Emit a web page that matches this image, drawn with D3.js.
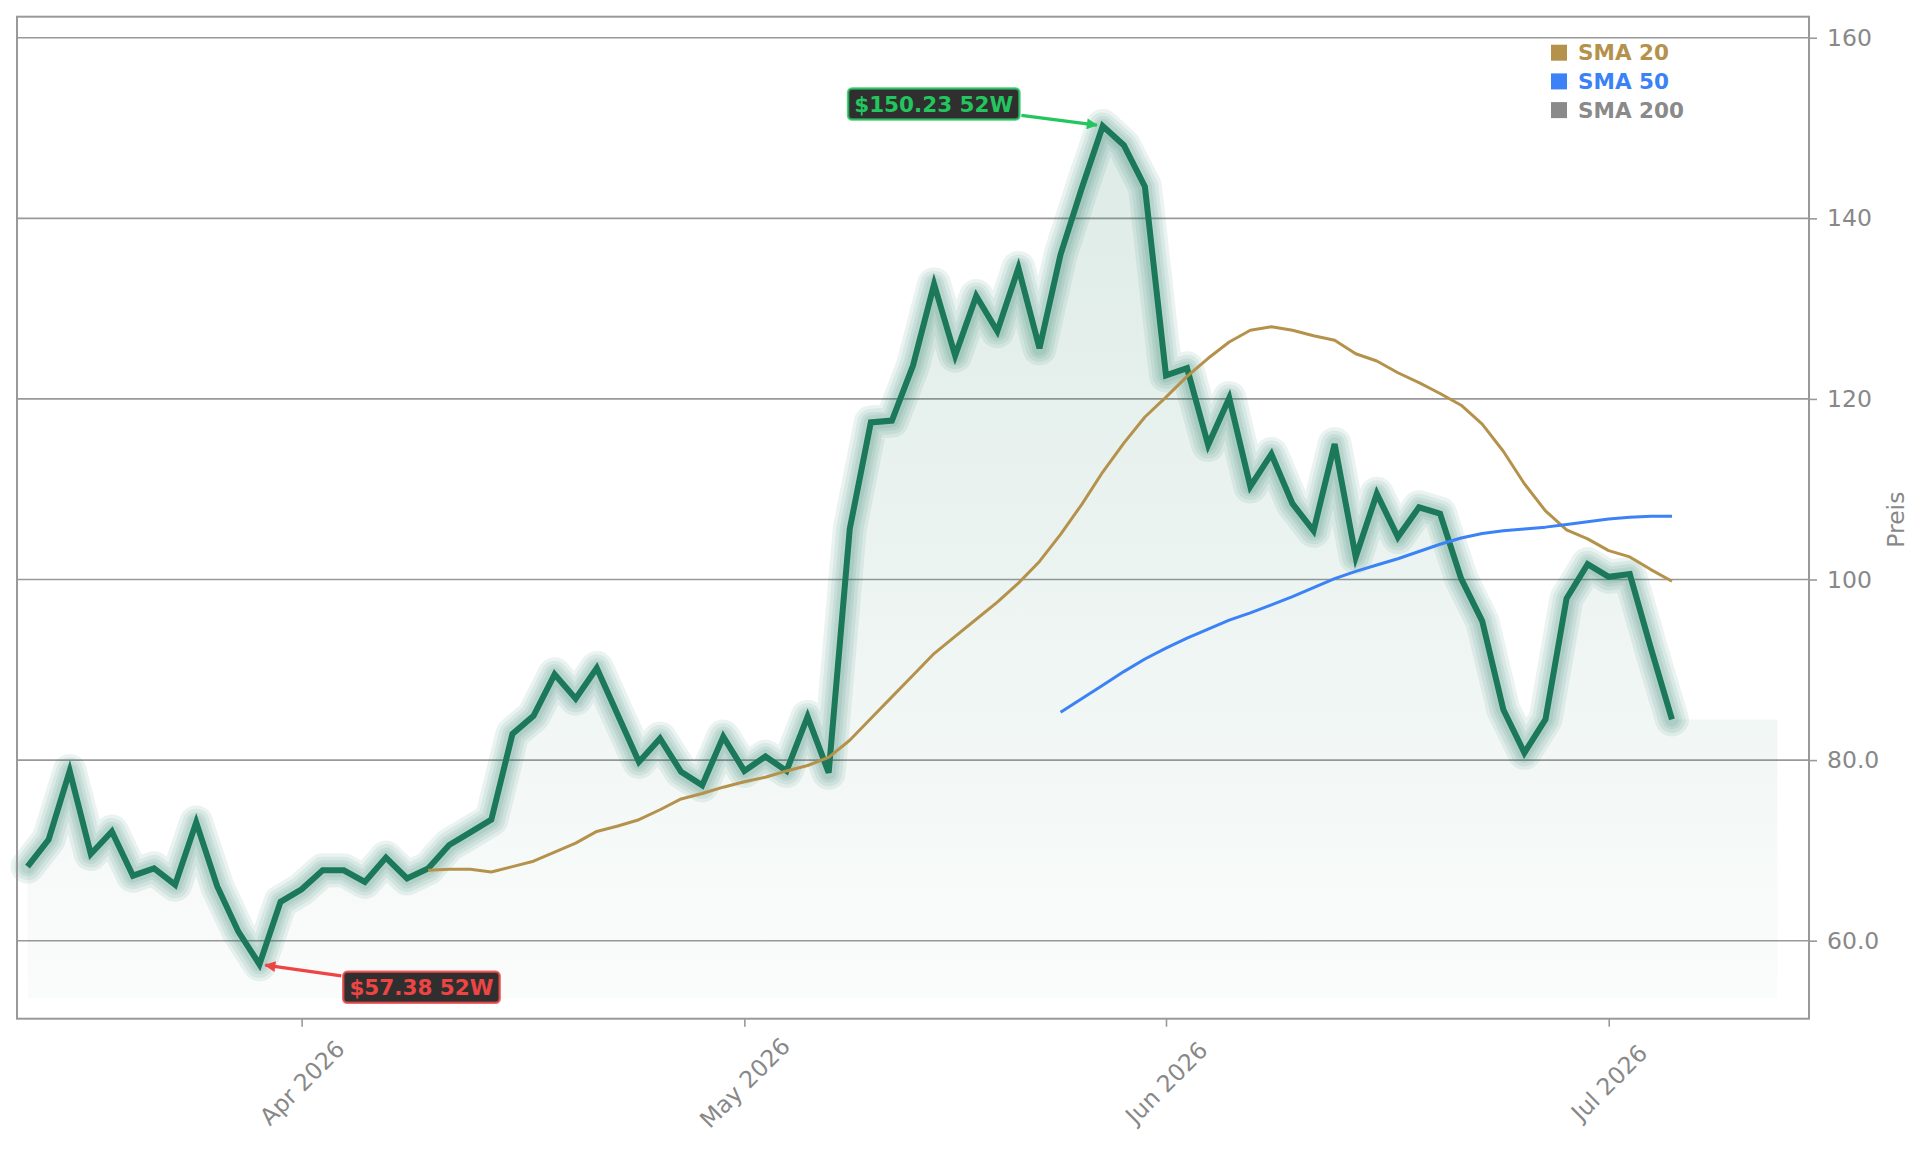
<!DOCTYPE html>
<html>
<head>
<meta charset="utf-8">
<script src="https://cdn.jsdelivr.net/npm/d3@7"></script>
<style>
  body { margin: 0; background: #fff; }
  svg { display: block; font-family: "DejaVu Sans", sans-serif; }
</style>
</head>
<body>
<script>
// closing prices, one per trading day (index 0 = first day shown)
const priceValues = [
  68.2, 71.2, 78.8, 69.6, 72.1, 67.2, 68.0, 66.2, 73.1, 66.0,
  61.0, 57.38, 64.3, 65.7, 67.8, 67.8, 66.5, 69.2, 66.9, 68.0,
  70.6, 72.0, 73.4, 82.9, 84.9, 89.5, 86.8, 90.2, 85.0, 79.8,
  82.4, 78.7, 77.2, 82.6, 78.8, 80.4, 78.8, 84.8, 78.6, 105.6,
  117.4, 117.6, 123.7, 132.7, 124.8, 131.4, 127.5, 134.5, 125.6, 136.0,
  143.3, 150.23, 148.1, 143.5, 122.6, 123.4, 114.9, 120.1, 110.3, 113.9,
  108.4, 105.4, 115.0, 102.5, 109.5, 104.7, 108.0, 107.3, 100.1, 95.4,
  85.6, 80.8, 84.5, 97.9, 101.7, 100.3, 100.6, 92.4, 84.5
];

// SMA 20 starts at trading day 19
const sma20Start = 19;
const sma20Values = [
  67.8, 67.9, 67.9, 67.6, 68.2, 68.8, 69.8, 70.8, 72.1, 72.7,
  73.4, 74.5, 75.7, 76.3, 77.0, 77.6, 78.1, 78.8, 79.4, 80.3,
  82.2, 84.6, 87.0, 89.4, 91.8, 93.7, 95.6, 97.5, 99.6, 102.0,
  105.0, 108.3, 111.9, 115.1, 118.0, 120.2, 122.5, 124.5, 126.3, 127.6,
  128.0, 127.6, 127.0, 126.5, 125.0, 124.2, 122.9, 121.8, 120.6, 119.3,
  117.2, 114.2, 110.6, 107.6, 105.5, 104.5, 103.2, 102.5, 101.1, 99.8
];

// SMA 50 starts at trading day 49
const sma50Start = 49;
const sma50Values = [
  85.3, 86.8, 88.3, 89.8, 91.2, 92.4, 93.5, 94.5, 95.5, 96.3,
  97.2, 98.1, 99.1, 100.1, 100.9, 101.6, 102.3, 103.1, 103.9, 104.6,
  105.1, 105.4, 105.6, 105.8, 106.1, 106.4, 106.7, 106.9, 107.0, 107.0
];

// first trading day of each month
const monthTickIndex = [13, 34, 54, 75];
const monthTickLabels = ["Apr 2026", "May 2026", "Jun 2026", "Jul 2026"];

const yTickValues = [60, 80, 100, 120, 140, 160];
const yTickLabels = ["60.0", "80.0", "100", "120", "140", "160"];

const legendLabels = ["SMA 20", "SMA 50", "SMA 200"];
const legendColors = ["#b5924c", "#3b82f6", "#8a8a8a"];

const highIndex = 51, lowIndex = 11;
const fillEndIndex = 83;

// ---- layout
const W = 1929, H = 1153;
const pLeft = 17, pRight = 1809, pTop = 16.7, pBottom = 1018.7;
const green = "#1b7858";

const svg = d3.select("body").append("svg").attr("width", W).attr("height", H);

const x = d3.scaleLinear().domain([-0.5, 84.5]).range([pLeft, pRight]);
const y = d3.scaleLinear().domain([51.36, 162.33]).range([pBottom, pTop]);

const price = priceValues.map((v, i) => ({i: i, v: v}));
const sma20 = sma20Values.map((v, k) => ({i: sma20Start + k, v: v}));
const sma50 = sma50Values.map((v, k) => ({i: sma50Start + k, v: v}));

// grid
svg.append("g").selectAll("line").data(yTickValues).join("line")
  .attr("x1", pLeft).attr("x2", pRight)
  .attr("y1", d => y(d)).attr("y2", d => y(d))
  .attr("stroke", "#999").attr("stroke-width", 1.6);

// gradient fill under price
const defs = svg.append("defs");
const grad = defs.append("linearGradient").attr("id", "fillGrad")
  .attr("gradientUnits", "userSpaceOnUse")
  .attr("x1", 0).attr("x2", 0).attr("y1", y(150.23)).attr("y2", y(53.6));
grad.append("stop").attr("offset", 0).attr("stop-color", green).attr("stop-opacity", 0.15);
grad.append("stop").attr("offset", 1).attr("stop-color", green).attr("stop-opacity", 0.02);

const fillData = price.concat([{i: fillEndIndex, v: priceValues[priceValues.length - 1]}]);
svg.append("path").datum(fillData)
  .attr("fill", "url(#fillGrad)")
  .attr("d", d3.area().x(d => x(d.i)).y0(y(53.6)).y1(d => y(d.v)));

// price line with glow
const line = d3.line().x(d => x(d.i)).y(d => y(d.v));
[34, 27, 20, 14].forEach(w => {
  svg.append("path").datum(price)
    .attr("fill", "none").attr("stroke", green).attr("stroke-opacity", 0.085)
    .attr("stroke-width", w).attr("stroke-linejoin", "round").attr("stroke-linecap", "round")
    .attr("d", line);
});
svg.append("path").datum(price)
  .attr("fill", "none").attr("stroke", green).attr("stroke-width", 6)
  .attr("stroke-linejoin", "miter")
  .attr("d", line);

// moving averages
svg.append("path").datum(sma20)
  .attr("fill", "none").attr("stroke", legendColors[0]).attr("stroke-width", 3)
  .attr("stroke-linejoin", "round").attr("d", line);
svg.append("path").datum(sma50)
  .attr("fill", "none").attr("stroke", legendColors[1]).attr("stroke-width", 3)
  .attr("stroke-linejoin", "round").attr("d", line);

// frame
svg.append("rect").attr("x", pLeft).attr("y", pTop)
  .attr("width", pRight - pLeft).attr("height", pBottom - pTop)
  .attr("fill", "none").attr("stroke", "#999").attr("stroke-width", 2);

// y axis on right
const yAxis = svg.append("g").attr("transform", `translate(${pRight},0)`)
  .call(d3.axisRight(y).tickValues(yTickValues).tickSize(8).tickPadding(10)
    .tickFormat((d, i) => yTickLabels[i]));
yAxis.select(".domain").remove();
yAxis.selectAll("line").attr("stroke", "#999").attr("stroke-width", 1.6);
yAxis.selectAll("text").attr("fill", "#888").attr("font-size", 23.5)
  .attr("font-family", "DejaVu Sans");

svg.append("text")
  .attr("transform", `translate(1896,${(pTop + pBottom) / 2 + 2}) rotate(-90)`)
  .attr("text-anchor", "middle").attr("dominant-baseline", "central")
  .attr("fill", "#888").attr("font-size", 23.5).text("Preis");

// x axis
const xAxis = svg.append("g").attr("transform", `translate(0,${pBottom})`)
  .call(d3.axisBottom(x).tickValues(monthTickIndex).tickSize(8)
    .tickFormat((d, i) => monthTickLabels[i]));
xAxis.select(".domain").remove();
xAxis.selectAll("line").attr("stroke", "#999").attr("stroke-width", 1.6);
xAxis.selectAll("text")
  .attr("y", 0).attr("dy", "0.35em")
  .attr("text-anchor", "middle")
  .attr("transform", "translate(0,64) rotate(-45)")
  .attr("fill", "#888").attr("font-size", 23.5).attr("font-family", "DejaVu Sans");

// legend
const legend = svg.append("g").attr("transform", "translate(1551,52.7)");
legendLabels.forEach((lab, k) => {
  const row = legend.append("g").attr("transform", `translate(0,${k * 28.7})`);
  row.append("rect").attr("x", 0).attr("y", -8).attr("width", 16).attr("height", 16)
    .attr("fill", legendColors[k]);
  row.append("text").attr("x", 27).attr("y", 0).attr("dy", "0.36em")
    .attr("font-size", 21.5).attr("font-weight", "bold").attr("fill", legendColors[k])
    .text(lab);
});

// 52W annotations
defs.selectAll("marker").data([["arrG", "#22c55e"], ["arrR", "#ef4444"]]).join("marker")
  .attr("id", d => d[0]).attr("viewBox", "0 0 10 10").attr("refX", 9).attr("refY", 5)
  .attr("markerUnits", "userSpaceOnUse").attr("markerWidth", 14).attr("markerHeight", 11)
  .attr("orient", "auto")
  .append("path").attr("d", "M0,0 L10,5 L0,10 Z").attr("fill", d => d[1]);

function annotate(idx, dx, dy, color, marker) {
  const px = x(idx), py = y(priceValues[idx]);
  const cx = px + dx, cy = py + dy;
  const g = svg.append("g");
  const t = g.append("text").attr("x", cx).attr("y", cy).attr("dy", "0.36em")
    .attr("text-anchor", "middle").attr("font-size", 21.5).attr("font-weight", "bold")
    .attr("fill", color).text("$" + priceValues[idx].toFixed(2) + " 52W");
  const bb = t.node().getBBox();
  const bw = bb.width + 12, bh = 31;
  // arrow from box edge to point
  const ang = Math.atan2(py - cy, px - cx);
  const tx = Math.abs(Math.cos(ang)) > 1e-6 ? (bw / 2 + 2) / Math.abs(Math.cos(ang)) : 1e9;
  const ty = Math.abs(Math.sin(ang)) > 1e-6 ? (bh / 2 + 2) / Math.abs(Math.sin(ang)) : 1e9;
  const s = Math.min(tx, ty);
  const len = Math.hypot(px - cx, py - cy) - 6;
  g.insert("line", "text")
    .attr("x1", cx + Math.cos(ang) * s).attr("y1", cy + Math.sin(ang) * s)
    .attr("x2", cx + Math.cos(ang) * len).attr("y2", cy + Math.sin(ang) * len)
    .attr("stroke", color).attr("stroke-width", 3.2).attr("marker-end", `url(#${marker})`);
  g.insert("rect", "text")
    .attr("x", cx - bw / 2).attr("y", cy - bh / 2).attr("width", bw).attr("height", bh)
    .attr("rx", 4).attr("fill", "#2f2f2f").attr("stroke", color).attr("stroke-opacity", 0.8)
    .attr("stroke-width", 2.5);
}
annotate(highIndex, -169, -22, "#22c55e", "arrG");
annotate(lowIndex, 162, 23, "#ef4444", "arrR");
</script>
</body>
</html>
